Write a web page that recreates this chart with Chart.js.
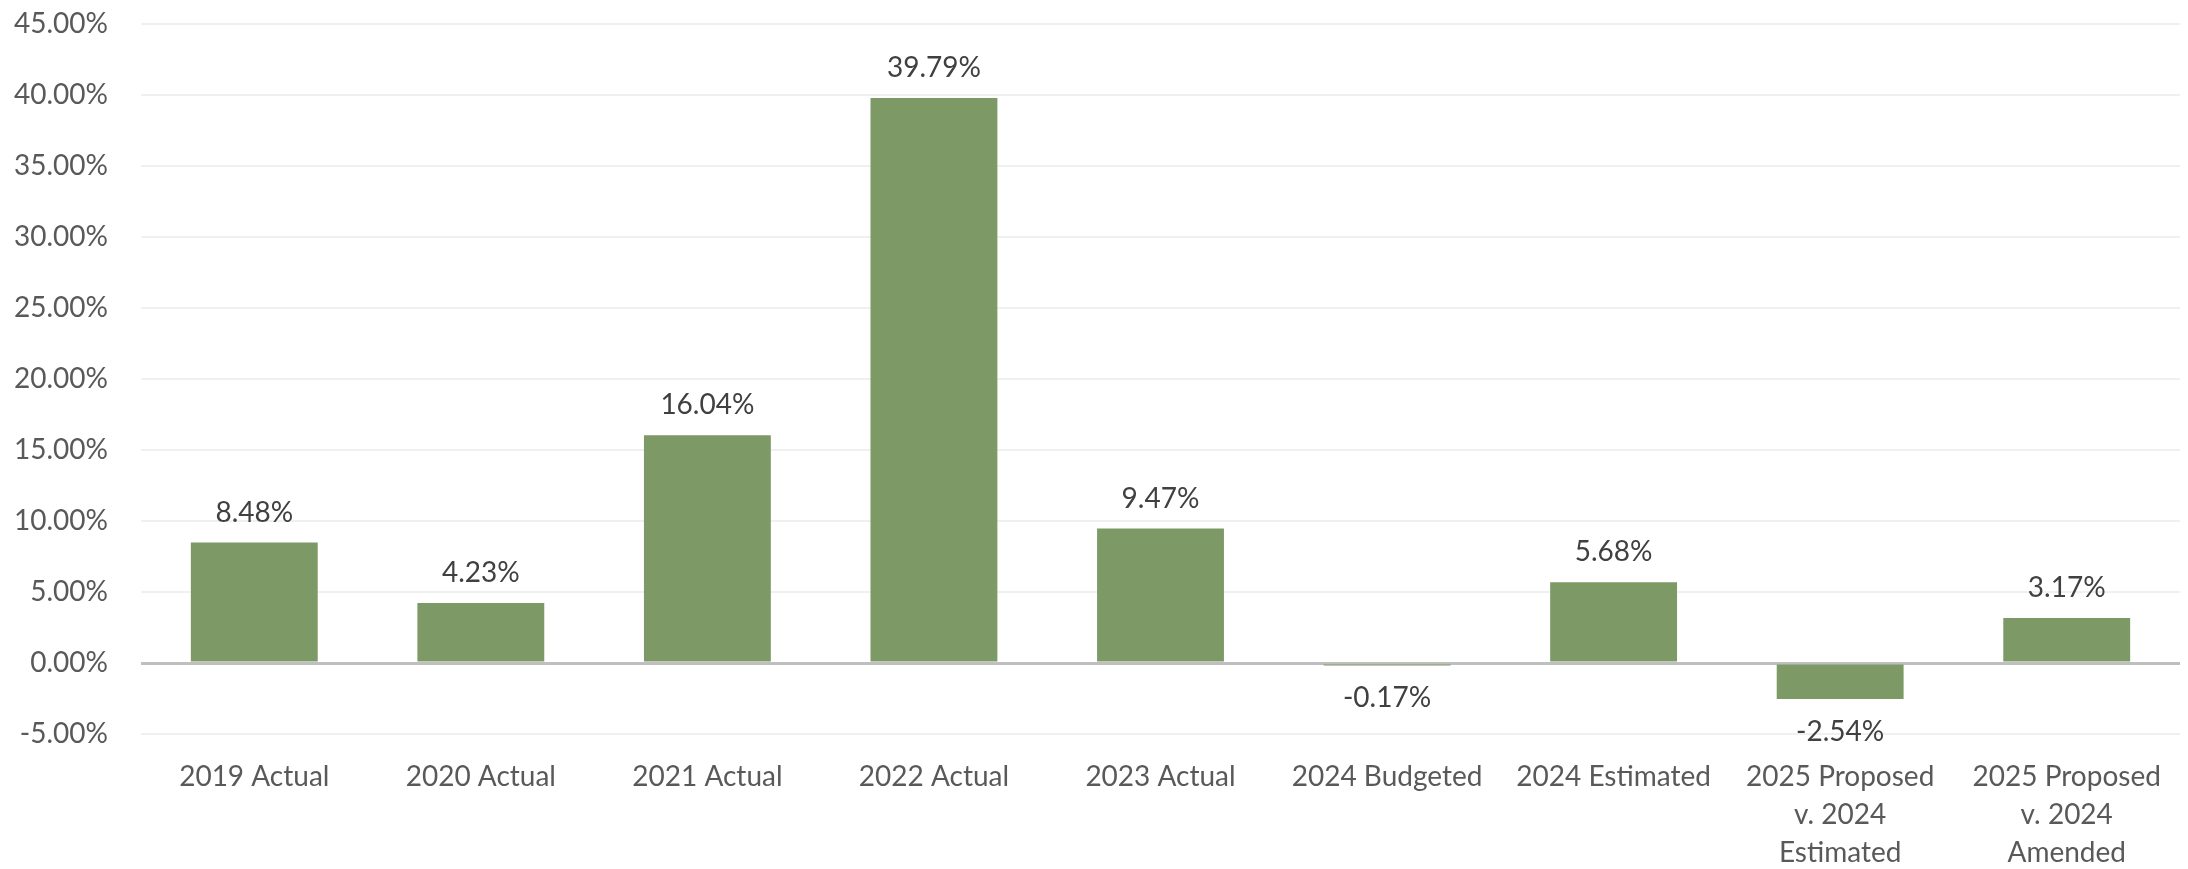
<!DOCTYPE html>
<html>
<head>
<meta charset="utf-8">
<title>Percent change</title>
<script src="https://cdn.jsdelivr.net/npm/chart.js@4/dist/chart.umd.min.js"></script>
<style>
  html, body { margin: 0; padding: 0; background: #ffffff; }
  #wrap { width: 2188px; height: 869px; }
</style>
</head>
<body>
<div id="wrap"><canvas id="growthChart" width="2188" height="869"></canvas></div>
<script>
const categories = [
  "2019 Actual",
  "2020 Actual",
  "2021 Actual",
  "2022 Actual",
  "2023 Actual",
  "2024 Budgeted",
  "2024 Estimated",
  ["2025 Proposed", "v. 2024", "Estimated"],
  ["2025 Proposed", "v. 2024", "Amended"]
]
const changePct = [8.48, 4.23, 16.04, 39.79, 9.47, -0.17, 5.68, -2.54, 3.17]
const yMin = -5
const yMax = 45
const yStep = 5

const FONT = "Lato, 'Open Sans', sans-serif"

// draws the value above (or below, for negatives) each bar
const valueLabels = {
  id: "valueLabels",
  afterDatasetsDraw(chart) {
    const { ctx } = chart
    const meta = chart.getDatasetMeta(0)
    ctx.save()
    ctx.font = "28px " + FONT
    ctx.fillStyle = "#404040"
    ctx.textAlign = "center"
    ctx.textBaseline = "middle"
    meta.data.forEach((bar, i) => {
      const v = changePct[i]
      const y = v >= 0 ? bar.y - 30 : bar.y + 33
      ctx.fillText(v.toFixed(2) + "%", bar.x, y)
    })
    ctx.restore()
  }
}

const ctx = document.getElementById("growthChart").getContext("2d")
new Chart(ctx, {
  type: "bar",
  data: {
    labels: categories,
    datasets: [{
      data: changePct,
      backgroundColor: "#7d9966",
      borderWidth: 0,
      barPercentage: 0.56,
      categoryPercentage: 1.0
    }]
  },
  options: {
    responsive: false,
    animation: false,
    devicePixelRatio: 1,
    layout: { padding: { top: 0, right: 8, left: 0, bottom: 0 } },
    plugins: {
      legend: { display: false },
      tooltip: { enabled: false }
    },
    scales: {
      x: {
        grid: { display: false, drawTicks: false },
        border: { display: false },
        ticks: {
          color: "#595959",
          font: { family: FONT, size: 28, lineHeight: 1.35 },
          padding: 24,
          maxRotation: 0,
          autoSkip: false
        },
        afterFit(scale) {
          scale.height = 135
          scale.paddingTop = 0
        }
      },
      y: {
        min: yMin,
        max: yMax,
        grid: {
          drawTicks: false,
          color: (c) => (c.tick && c.tick.value === 0 ? "#bfbfbf" : "#f0f0f0"),
          lineWidth: (c) => (c.tick && c.tick.value === 0 ? 3 : 2)
        },
        border: { display: false },
        ticks: {
          stepSize: yStep,
          color: "#595959",
          font: { family: FONT, size: 28 },
          padding: 33,
          callback: (v) => v.toFixed(2) + "%"
        },
        afterFit(scale) {
          scale.width = 141
          scale.paddingTop = 24
          scale.paddingBottom = 0
        }
      }
    }
  },
  plugins: [valueLabels]
})
</script>
</body>
</html>
